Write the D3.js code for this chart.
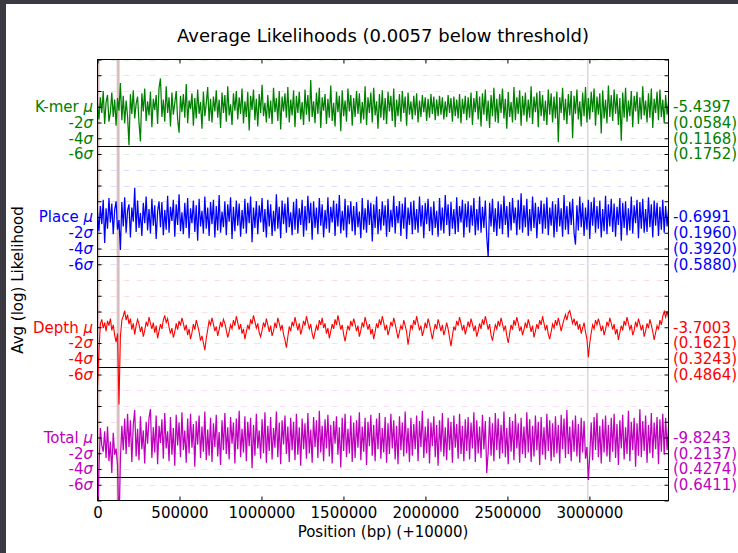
<!DOCTYPE html>
<html><head><meta charset="utf-8">
<script src="https://cdn.jsdelivr.net/npm/d3@7"></script>
<style>body{margin:0;background:#fff;overflow:hidden}svg{display:block;font-family:"DejaVu Sans",sans-serif}</style>
</head><body><svg id="c" width="738" height="553"></svg>
<script>
// ---------------- data ----------------
const titleText = "Average Likelihoods (0.0057 below threshold)";
const xLabelText = "Position (bp) (+10000)";
const yLabelText = "Avg (log) Likelihood";
const seriesNames = ["K-mer", "Place", "Depth", "Total"];
const seriesColors = ["#008000", "#0000ff", "#ff0000", "#bf00bf"];
const seriesMeans = ["-5.4397", "-0.6991", "-3.7003", "-9.8243"];
const sigmaTexts = [
  ["(0.0584)", "(0.1168)", "(0.1752)"],
  ["(0.1960)", "(0.3920)", "(0.5880)"],
  ["(0.1621)", "(0.3243)", "(0.4864)"],
  ["(0.2137)", "(0.4274)", "(0.6411)"]
];
const sigmaTickLabels = ["-2", "-4", "-6"];
const xTicks = [0, 500000, 1000000, 1500000, 2000000, 2500000, 3000000];
const sampleStep = 8728;             // bp between samples
const belowThreshold = [[0, 12000], [117000, 135000]];
const markers = [2990000];

// deviations from each series mean, in sigma units (400 samples each)
const kmer = [
 0.4,-1.6,1.2,-0.8,2.0,-2.2,0.6,1.5,-1.9,-0.7,1.8,-1.3,0.9,-2.4,1.1,-0.5,3.0,-1.7,1.4,-2.1,
 0.8,-1.2,-4.9,1.6,-0.9,2.1,-1.5,0.4,1.3,-2.0,-4.4,1.7,-0.6,2.3,-1.8,0.7,-1.1,1.9,-2.6,1.0,
 -0.4,1.5,-2.2,2.4,3.6,-1.3,0.9,-1.9,2.6,-0.8,1.2,-2.5,1.8,-1.0,0.5,2.0,-1.6,-3.3,1.4,-0.7,
 1.6,-1.4,2.9,-2.1,0.8,-0.3,1.7,-2.4,1.1,-1.5,2.2,-0.9,0.6,-2.8,1.9,-1.2,0.4,2.5,-1.8,1.0,
 -2.0,1.3,-0.6,2.1,-1.4,0.9,-2.7,1.8,-0.8,1.5,-1.9,2.6,-1.1,0.3,-2.3,1.7,-0.5,2.0,-1.6,1.2,
 -0.9,2.3,-2.1,0.7,-1.3,1.9,-3.0,1.4,-0.4,2.2,-1.7,1.0,-2.5,1.6,-0.8,2.8,-1.2,0.5,-2.0,1.5,
 -1.5,0.8,-2.2,2.4,-0.7,1.1,-1.8,2.0,-2.9,1.3,-0.6,1.7,-1.4,2.5,-2.0,0.9,-1.1,2.1,-2.6,1.4,
 -0.8,1.9,-1.6,0.6,-2.3,2.2,-1.0,1.5,-1.9,3.4,-1.3,0.7,-2.1,1.8,-0.9,2.4,-2.7,1.2,-0.5,1.6,
 -2.2,1.0,-1.4,2.7,-1.8,0.5,-2.5,1.9,-0.7,1.4,-3.1,2.1,-1.2,0.8,-1.9,2.3,-0.6,1.5,-2.4,1.1,
 -1.3,2.0,-0.9,1.7,-2.1,0.6,-1.6,2.6,-2.3,1.2,-0.8,1.8,-2.0,2.4,-1.1,0.7,-2.8,1.6,-1.4,2.1,
 -1.7,1.1,-2.2,1.9,-0.6,1.4,-1.8,2.3,-2.6,0.9,-1.2,1.6,-1.9,2.0,-0.8,1.3,-2.4,1.8,-1.0,0.7,
 -1.6,1.4,-1.1,1.7,-2.0,0.8,-1.3,1.5,-0.7,1.2,-1.8,1.0,-1.4,1.6,-0.9,1.3,-1.7,0.9,-1.2,1.4,
 -1.0,1.2,-1.6,0.7,-1.3,1.5,-0.8,1.1,-1.9,1.3,-1.2,0.9,-1.5,1.6,-2.1,1.0,-0.9,1.4,-1.7,1.2,
 -1.4,1.8,-2.3,1.1,-0.7,2.0,-1.6,1.3,-2.5,1.7,-1.0,2.2,-1.8,0.8,-2.7,1.5,-1.2,2.4,-1.9,1.0,
 -2.1,1.6,-0.8,2.3,-1.5,1.0,-2.8,1.9,-1.3,0.6,-2.0,2.5,-1.7,1.2,-0.9,2.1,-2.4,1.4,-1.1,1.8,
 -1.9,0.9,-1.4,2.6,-2.2,1.3,-0.7,1.8,-2.6,2.0,-1.2,1.5,-1.8,0.8,-2.3,2.2,-1.0,1.7,-2.0,1.3,
 -1.5,1.9,-4.5,1.2,-0.8,2.4,-1.7,1.0,-2.2,1.6,-1.1,2.0,-4.0,1.4,-0.9,2.2,-1.6,0.7,-2.5,1.8,
 -1.2,2.5,-2.0,1.1,-1.6,1.9,-0.7,2.3,-2.4,1.3,-1.0,1.7,-3.4,2.1,-1.5,0.9,-2.1,2.7,-1.3,1.5,
 -1.8,2.2,-0.9,1.6,-2.3,1.1,-4.3,1.8,-1.4,2.4,-1.9,0.8,-1.2,2.0,-2.6,1.4,-0.6,1.9,-2.2,1.2,
 -1.6,2.6,-1.1,0.8,-2.0,1.7,-1.4,2.3,-2.7,1.0,-0.8,1.9,-1.7,2.2,-1.3,0.9,-2.1,1.5,-1.0,0.6
];
const place = [
 0.6,-1.8,1.4,-0.9,2.2,-3.3,1.1,-1.5,2.4,-0.7,1.7,-2.2,0.9,2.0,-1.6,-0.4,-4.2,1.9,-1.2,2.5,
 -2.0,0.8,1.6,-2.6,1.2,-0.6,3.7,-1.9,2.1,-1.4,0.5,-2.4,1.8,-0.8,2.6,-1.7,1.0,-2.1,2.3,-1.1,
 1.5,-2.8,0.7,2.0,-1.3,1.9,-2.3,0.9,-1.6,2.7,-2.0,1.3,-0.5,2.2,-2.5,1.6,-1.0,2.9,-1.8,0.6,
 -2.2,1.8,-1.4,2.4,-2.7,1.1,-0.8,2.1,-1.9,1.5,-3.0,2.3,-1.2,0.8,-2.1,2.6,-1.5,1.2,-2.4,1.9,
 -0.9,2.2,-2.6,1.4,-1.7,2.8,-2.0,0.7,-1.3,2.0,-2.3,1.6,-0.6,2.5,-2.8,1.3,-1.8,2.1,-1.1,1.7,
 -2.5,0.9,-1.5,2.3,-2.1,1.8,-0.8,2.6,-3.2,1.2,-1.4,2.0,-2.2,1.5,-0.7,2.4,-1.9,1.0,-2.6,2.2,
 -1.2,1.6,-2.4,0.8,-1.8,2.9,-1.5,1.3,-2.7,2.1,-0.9,1.7,-2.0,2.5,-1.3,0.6,-2.3,1.9,-1.6,2.3,
 -2.1,1.1,-1.0,2.2,-2.5,1.4,-1.7,2.7,-0.8,1.8,-2.9,2.0,-1.4,1.2,-2.2,2.4,-1.1,1.6,-2.6,0.9,
 -1.5,2.5,-2.0,1.3,-0.7,2.1,-2.4,1.7,-1.2,2.8,-2.1,0.8,-1.7,2.3,-2.6,1.5,-0.9,2.0,-1.8,1.4,
 -2.3,1.9,-1.3,0.7,-2.7,2.4,-1.6,1.1,-2.0,2.2,-1.0,1.8,-3.1,1.6,-1.4,2.6,-2.2,1.0,-1.7,2.0,
 -1.1,1.5,-2.5,2.3,-1.9,0.9,-1.3,2.7,-2.1,1.4,-0.8,2.0,-2.4,1.7,-1.5,2.5,-2.8,1.2,-1.0,1.9,
 -2.2,2.1,-1.6,1.0,-2.0,2.6,-1.2,1.5,-2.7,1.8,-0.9,2.3,-1.8,1.3,-2.3,2.0,-1.4,0.8,-2.5,2.4,
 -1.7,1.2,-2.1,2.8,-1.0,1.6,-2.4,1.9,-1.5,1.0,-2.2,2.5,-1.9,1.4,-0.7,2.2,-2.6,1.7,-1.3,2.0,
 -2.0,1.5,-1.1,2.4,-2.3,1.0,-1.7,2.6,-2.0,1.3,-1.4,2.1,-2.5,-5.1,1.8,-1.2,2.3,-1.9,1.1,-2.4,
 2.0,-1.5,1.6,-2.2,2.7,-1.0,1.4,-2.6,1.9,-1.7,2.4,-0.8,1.2,-2.3,2.2,-1.6,3.0,-2.0,1.5,-1.3,
 2.3,-2.4,1.0,-1.8,2.6,-1.4,1.8,-2.7,1.3,-0.9,2.1,-2.1,1.7,-1.5,2.5,-2.3,1.2,-1.1,2.0,-2.6,
 1.6,-1.9,2.4,-1.2,1.1,-2.5,2.8,-1.6,1.4,-2.2,1.9,-1.0,2.3,-2.0,-3.5,1.5,-1.7,2.6,-1.3,1.8,
 -2.4,1.2,-1.6,2.2,-2.8,1.9,-1.1,2.5,-2.0,1.4,-1.5,2.1,-2.6,1.0,-1.8,2.7,-2.2,1.6,-1.2,2.3,
 -1.9,1.7,-2.5,1.3,-1.0,2.4,-3.0,1.8,-1.4,2.0,-2.3,1.1,-1.7,2.6,-2.1,1.5,-0.8,2.2,-2.7,1.9,
 -1.5,2.3,-2.0,1.0,-1.9,2.5,-1.3,1.6,-2.6,2.1,-1.1,1.8,-2.4,1.3,-1.6,2.2,-2.0,1.4,-1.2,0.9
];
const depth = [
 -7.5,-3.0,0.4,1.0,-0.1,0.6,-0.5,0.8,0.2,1.1,-0.4,0.3,-1.0,-1.9,-0.8,-9.8,-1.2,0.9,1.4,2.1,
 0.9,1.6,0.4,1.1,-0.3,0.5,-0.9,0.2,1.0,0.4,-0.6,0.1,-1.2,-0.4,0.7,0.1,1.3,0.5,-0.2,0.6,
 -0.7,0.2,-1.4,-0.5,0.4,-0.2,0.9,1.5,0.6,1.1,0.0,-0.8,-0.1,-1.3,-0.6,0.5,-0.3,0.8,0.2,1.2,
 0.5,-0.4,0.3,-1.0,-0.2,-1.5,-0.7,0.4,-0.3,0.9,0.2,-0.6,-1.7,-1.1,-2.0,-2.9,-1.4,-0.3,0.8,0.3,
 1.2,0.4,-0.5,0.1,-1.1,-0.3,0.7,0.0,1.0,0.5,-0.4,-1.3,-0.6,0.3,-0.2,0.9,0.2,1.4,0.6,-0.3,
 0.4,-0.8,-0.2,-1.5,-0.6,0.3,-0.3,1.0,0.4,1.5,0.7,-0.1,0.5,-0.7,-1.2,-0.4,0.6,0.0,1.1,0.3,
 -0.6,0.2,-1.1,-0.5,0.6,-0.1,1.2,0.5,-0.3,0.3,-0.9,-1.6,-2.6,-1.2,0.1,-0.5,0.7,0.1,1.3,0.4,
 -0.4,0.5,-0.9,-0.2,0.8,0.2,1.4,0.6,-0.2,0.4,-0.8,-1.5,-0.6,0.2,-0.4,0.9,0.3,1.2,-0.1,0.5,
 -0.8,-0.1,-1.4,-0.5,0.4,-0.2,1.0,0.3,1.5,0.6,-0.3,0.3,-0.9,-1.8,-0.7,0.2,-0.4,0.8,0.1,1.1,
 0.4,-0.5,0.2,-1.2,-0.4,0.6,0.0,1.3,0.5,-0.3,0.4,-0.9,-0.2,-1.5,-0.6,0.5,-0.1,1.0,0.3,1.4,
 0.6,-0.4,0.3,-1.0,-0.3,0.7,0.1,1.2,0.4,-0.5,-1.4,-0.6,0.2,-0.3,0.9,0.2,-0.6,-2.2,-1.0,0.3,
 -0.2,0.9,0.3,1.4,0.5,-0.4,0.2,-1.1,-0.4,0.6,-0.1,1.1,0.4,-0.6,-1.5,-0.5,0.4,-0.2,1.0,0.3,
 -0.5,0.3,-1.0,-0.3,0.6,-0.2,-1.3,-2.4,-1.1,0.1,-0.4,0.8,0.2,1.3,0.5,-0.4,0.3,-0.9,-0.1,0.7,
 0.0,1.1,0.4,-0.5,0.2,-1.2,-0.5,0.5,-0.2,1.0,0.3,1.4,0.6,-0.3,0.4,-1.0,-1.7,-0.6,0.3,-0.2,
 0.8,0.1,1.2,0.4,-0.4,0.2,-1.1,-2.0,-0.8,0.3,-0.3,0.9,0.2,1.3,0.5,-0.5,0.1,-1.0,-0.3,0.6,
 -0.1,1.0,0.3,-0.6,0.2,-1.3,-0.5,0.4,-0.2,0.9,0.3,1.4,0.5,-0.4,0.3,-0.9,-1.5,-0.6,0.4,-0.1,
 0.9,0.2,1.2,0.4,-0.5,0.3,1.0,1.6,0.9,1.8,2.1,1.3,0.5,1.1,0.2,0.8,-0.3,0.4,-0.8,-0.1,
 0.6,-0.6,-1.5,-3.8,-2.0,-0.7,0.3,-0.2,0.9,0.3,1.1,0.4,-0.5,0.2,-1.0,-0.3,0.7,0.1,1.2,0.5,
 -0.3,0.4,-0.9,-0.2,-1.6,-0.7,0.2,-0.4,0.8,0.2,1.3,0.5,-0.3,0.3,-1.0,-0.4,0.7,0.0,1.1,0.4,
 -0.4,0.3,-1.2,-0.5,0.5,-0.1,1.0,0.3,-0.6,-1.6,-0.7,0.2,-0.3,0.9,0.3,1.4,2.0,1.3,2.0,1.2
];
const total = [
 -10.5,-4.0,1.2,-1.0,-1.8,0.8,-2.6,1.4,-3.0,-0.5,-4.5,0.6,-2.2,-1.4,-3.5,-12.0,-2.8,1.5,-1.6,2.4,
 -2.1,3.0,-1.2,2.2,-3.1,1.6,3.5,-2.4,1.1,-2.9,2.7,-1.5,0.9,-3.3,2.0,-0.8,2.5,3.6,-2.6,1.3,
 -1.9,2.8,-3.4,1.5,-0.7,2.3,-2.7,3.1,-1.4,0.8,-3.0,2.6,-2.2,1.2,-3.6,2.9,-1.0,1.9,-2.5,3.2,
 -1.6,0.9,-3.2,2.4,-2.0,3.0,-1.3,1.7,-3.7,2.1,-0.9,2.8,-2.6,1.4,-1.8,3.3,-2.9,1.0,-2.3,2.5,
 -3.1,1.8,-1.2,2.9,-2.4,0.7,-3.5,2.2,-1.6,3.1,-2.1,1.3,-2.8,2.6,-0.8,1.9,-3.3,2.4,-1.5,3.4,
 -2.5,1.1,-1.9,2.7,-3.0,2.0,-1.1,2.5,-3.9,1.6,-2.3,3.0,-1.4,0.9,-2.7,2.3,-2.0,3.2,-3.2,1.5,
 -1.7,2.6,-2.8,1.2,-1.3,3.3,-2.5,1.9,-3.4,2.2,-0.9,2.8,-2.1,1.4,-3.1,2.5,-1.6,2.0,-2.9,3.0,
 -2.2,1.3,-3.6,2.4,-1.5,1.8,-2.7,3.1,-2.0,1.0,-3.2,2.6,-1.2,2.2,-2.6,3.4,-1.9,1.5,-3.0,2.3,
 -1.4,2.9,-2.4,1.6,-3.3,2.1,-0.8,2.7,-2.2,1.3,-3.8,2.5,-1.7,3.0,-2.5,1.1,-2.0,2.8,-3.1,1.9,
 -2.6,2.2,-1.3,3.2,-2.9,1.4,-1.8,2.5,-3.5,2.0,-1.1,2.9,-2.3,1.6,-3.0,2.4,-1.5,3.1,-2.7,1.2,
 -1.9,2.6,-3.2,1.8,-2.1,3.0,-1.4,2.2,-2.8,1.5,-3.4,2.7,-1.6,1.9,-2.4,3.3,-2.0,1.2,-3.1,2.5,
 -2.3,1.7,-1.5,2.8,-3.0,2.1,-1.2,3.4,-2.6,1.4,-2.0,2.4,-3.3,1.9,-1.1,2.7,-2.5,1.6,-3.6,2.2,
 -1.8,3.1,-2.4,1.3,-2.9,2.5,-1.6,2.0,-3.2,2.8,-1.3,1.7,-2.7,3.0,-2.1,1.5,-3.0,2.3,-1.7,2.6,
 -2.8,1.9,-1.4,3.2,-3.1,2.2,-2.0,1.4,-2.6,2.9,-1.5,2.1,-4.5,-1.8,2.6,-2.3,1.8,-3.0,3.1,-1.6,
 2.4,-2.7,1.6,-2.0,3.3,-2.5,1.2,-3.4,2.6,-1.8,2.1,-2.9,3.0,-1.4,1.8,-3.2,2.5,-2.1,1.4,-2.6,
 3.2,-1.9,2.3,-3.1,1.5,-2.4,2.8,-1.6,2.0,-3.5,2.6,-2.2,1.3,-2.8,3.0,-1.7,2.2,-3.0,1.8,-2.5,
 2.7,-2.0,1.6,-3.3,2.9,-1.5,2.4,-2.6,3.5,-2.1,1.4,-3.0,2.2,-1.8,2.8,-2.4,1.7,-3.2,2.5,-1.9,
 2.1,-2.7,-1.2,-5.4,-2.2,1.9,-2.9,2.6,-1.6,3.1,-2.5,1.5,-3.3,2.3,-1.9,2.8,-2.4,1.6,-3.1,2.5,
 -1.8,3.0,-2.6,1.7,-3.5,2.2,-1.4,2.9,-2.8,1.3,-2.1,3.4,-3.0,2.0,-1.6,2.5,-3.7,1.8,-2.3,3.6,
 -2.5,2.1,-1.7,2.8,-3.2,1.6,-2.0,3.1,-2.6,1.9,-1.5,2.6,-3.4,2.3,-1.8,3.0,-2.2,2.5,-1.6,1.4
];
const seriesValues = [kmer, place, depth, total];

// ---------------- layout ----------------
const svg = d3.select("#c");
const m = {left: 97.5, right: 668.5, top: 59.5, bottom: 500.5};
const panelGap = 14;        // sigma units between panel means
const lineWidths = [1.25, 1.25, 1.1, 1.25];
const xMax = sampleStep * (kmer.length - 1);
const x = d3.scaleLinear().domain([0, xMax]).range([m.left, m.right]);
const y = d3.scaleLinear().domain([-50, 6]).range([m.bottom, m.top]);

// window chrome
svg.append("rect").attr("x",0).attr("y",0).attr("width",738).attr("height",553).attr("fill","#fff");
svg.append("rect").attr("x",0).attr("y",0).attr("width",6).attr("height",553).attr("fill","#3b3a42");
svg.append("rect").attr("x",0).attr("y",0).attr("width",738).attr("height",4).attr("fill","#3b3a42");

svg.append("defs").append("clipPath").attr("id","clip")
  .append("rect").attr("x",m.left).attr("y",m.top).attr("width",m.right-m.left).attr("height",m.bottom-m.top);

const plot = svg.append("g").attr("clip-path","url(#clip)");

// grid lines per panel
seriesNames.forEach((n,k)=>{
  const o = -panelGap*k;
  const vals = d3.range(o+6, o-7, -2);
  plot.selectAll(null).data(vals).join("line")
    .attr("x1",m.left).attr("x2",m.right)
    .attr("y1",d=>Math.round(y(d))+0.5).attr("y2",d=>Math.round(y(d))+0.5)
    .attr("stroke",seriesColors[k]).attr("stroke-opacity",0.13)
    .attr("stroke-width",1).attr("stroke-dasharray","6,7");
});

// below-threshold regions and markers
plot.selectAll(null).data(belowThreshold).join("rect")
  .attr("x",d=>x(d[0])).attr("width",d=>Math.max(2,x(d[1])-x(d[0])))
  .attr("y",m.top).attr("height",m.bottom-m.top)
  .attr("fill","#a0605e").attr("fill-opacity",0.4);
plot.selectAll(null).data(markers).join("line")
  .attr("x1",d=>x(d)).attr("x2",d=>x(d)).attr("y1",m.top).attr("y2",m.bottom)
  .attr("stroke","#d8d8d8").attr("stroke-width",1.5);

// series
seriesValues.forEach((vals,k)=>{
  const o = -panelGap*k;
  const line = d3.line().x((d,i)=>x(i*sampleStep)).y(d=>y(o+d));
  plot.append("path").datum(vals).attr("d",line)
    .attr("fill","none").attr("stroke",seriesColors[k]).attr("stroke-width",lineWidths[k]);
});

// panel separator lines at -5 sigma
seriesNames.forEach((n,k)=>{
  const o = -panelGap*k;
  const yy = Math.round(y(o-5))+0.5;
  svg.append("line").attr("x1",m.left).attr("x2",m.right).attr("y1",yy).attr("y2",yy)
    .attr("stroke","#000").attr("stroke-width",1.2);
});

// axes
const yTickVals = d3.range(-50, 7, 2);
const axL = svg.append("g").attr("transform",`translate(${m.left},0)`)
  .call(d3.axisLeft(y).tickValues(yTickVals).tickSize(-4).tickFormat(""));
const axR = svg.append("g").attr("transform",`translate(${m.right},0)`)
  .call(d3.axisRight(y).tickValues(yTickVals).tickSize(-4).tickFormat(""));
const axB = svg.append("g").attr("transform",`translate(0,${m.bottom})`)
  .call(d3.axisBottom(x).tickValues(xTicks).tickSize(-4).tickPadding(7).tickFormat(d3.format("d")));
const axT = svg.append("g").attr("transform",`translate(0,${m.top})`)
  .call(d3.axisTop(x).tickValues(xTicks).tickSize(-4).tickFormat(""));
[axL,axR,axB,axT].forEach(a=>{
  a.select(".domain").remove();
  a.selectAll(".tick line").attr("stroke","#000");
});
axB.selectAll(".tick text").attr("font-size",15).attr("font-family","DejaVu Sans").attr("fill","#000");

svg.append("rect").attr("x",m.left).attr("y",m.top).attr("width",m.right-m.left).attr("height",m.bottom-m.top)
  .attr("fill","none").attr("stroke","#000").attr("stroke-width",1);

// left and right labels
seriesNames.forEach((n,k)=>{
  const o = -panelGap*k;
  const c = seriesColors[k];
  const t = svg.append("text").attr("x",93).attr("y",y(o)).attr("dy","0.35em")
    .attr("text-anchor","end").attr("font-size",15).attr("fill",c);
  t.append("tspan").text(n+" ");
  t.append("tspan").attr("font-style","italic").text("\u03bc");
  sigmaTickLabels.forEach((s,j)=>{
    const tt = svg.append("text").attr("x",93).attr("y",y(o-2*(j+1))).attr("dy","0.35em")
      .attr("text-anchor","end").attr("font-size",15).attr("fill",c);
    tt.append("tspan").text(s);
    tt.append("tspan").attr("font-style","italic").text("\u03c3");
  });
  svg.append("text").attr("x",673).attr("y",y(o)).attr("dy","0.35em")
    .attr("font-size",15).attr("fill",c).text(seriesMeans[k]);
  sigmaTexts[k].forEach((s,j)=>{
    svg.append("text").attr("x",673).attr("y",y(o-2*(j+1))).attr("dy","0.35em")
      .attr("font-size",15).attr("fill",c).text(s);
  });
});

// titles
svg.append("text").attr("x",(m.left+m.right)/2).attr("y",42).attr("text-anchor","middle")
  .attr("font-size",18).attr("fill","#000").text(titleText);
svg.append("text").attr("x",(m.left+m.right)/2).attr("y",537).attr("text-anchor","middle")
  .attr("font-size",15).attr("fill","#000").text(xLabelText);
svg.append("text").attr("transform",`translate(23,${(m.top+m.bottom)/2}) rotate(-90)`)
  .attr("text-anchor","middle").attr("font-size",15).attr("fill","#000").text(yLabelText);
</script></body></html>
